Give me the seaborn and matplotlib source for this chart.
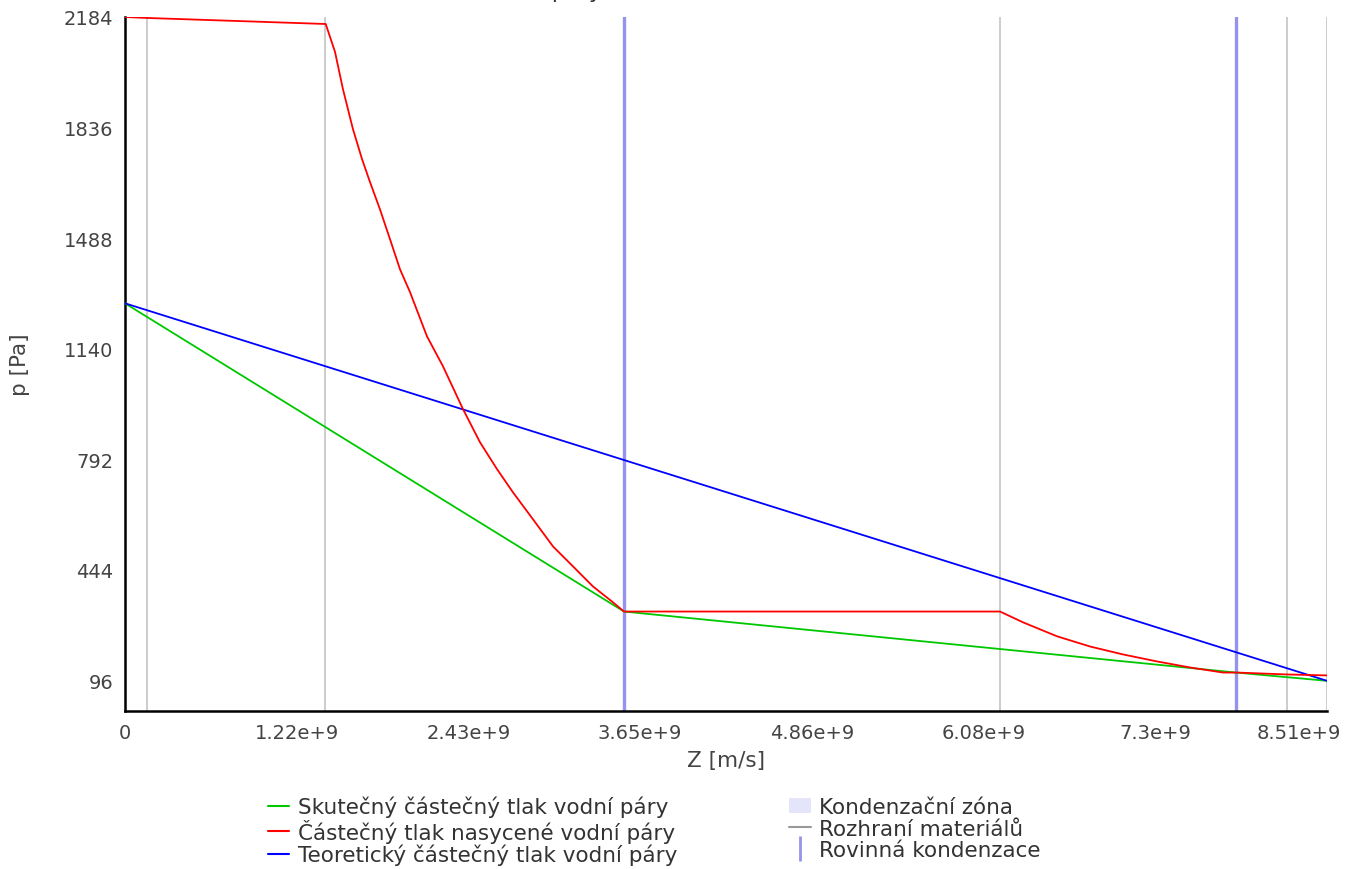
import numpy as np
import pandas as pd
import matplotlib
matplotlib.use("Agg")
import matplotlib.pyplot as plt
import matplotlib.transforms as mtransforms
import seaborn as sns
from matplotlib.lines import Line2D
from matplotlib.patches import Patch

sns.set_style("white")
plt.rcParams['font.family'] = ['DejaVu Sans']

# ------------------------------
# Data (Z in 1e9 m/s, p in Pa)
# ------------------------------
z_max = 8.51e9

green_z = [0.0, 3.533, 7.866, 8.51]
green_p = [1283, 313, 121, 95]

blue_z = [0.0, 8.51]
blue_p = [1283, 95]

red_z = [0.0, 0.156, 1.421, 1.487, 1.543, 1.614, 1.678, 1.735, 1.805, 1.876,
         1.947, 2.018, 2.138, 2.251, 2.393, 2.513, 2.634, 2.747, 2.889, 3.030,
         3.172, 3.313, 3.455, 3.533, 6.195, 6.358, 6.599, 6.832, 7.066, 7.306,
         7.540, 7.774, 7.873, 8.227, 8.51]
red_p = [2184, 2181, 2162, 2074, 1957, 1831, 1737, 1664, 1579, 1485,
         1390, 1318, 1179, 1085, 950, 846, 761, 688, 603, 518,
         455, 392, 342, 313, 313, 279, 235, 203, 178, 156,
         137, 121, 121, 115, 112]

interfaces_z = [0.0, 0.156, 1.416, 6.195, 8.227, 8.51]
condensation_z = [3.533, 7.866]

x_ticks_labels = ["0", "1.22e+9", "2.43e+9", "3.65e+9", "4.86e+9", "6.08e+9", "7.3e+9", "8.51e+9"]
y_ticks = [96, 444, 792, 1140, 1488, 1836, 2184]

labels = ["Skutečný částečný tlak vodní páry",
          "Částečný tlak nasycené vodní páry",
          "Teoretický částečný tlak vodní páry",
          "Kondenzační zóna",
          "Rozhraní materiálů",
          "Rovinná kondenzace"]

green = pd.DataFrame({"Z": np.array(green_z) * 1e9, "p": green_p})
red = pd.DataFrame({"Z": np.array(red_z) * 1e9, "p": red_p})
blue = pd.DataFrame({"Z": np.array(blue_z) * 1e9, "p": blue_p})

fig = plt.figure(figsize=(13.51, 8.70), dpi=100)
ax = fig.add_axes([125 / 1351, 1 - 712 / 870, 1202 / 1351, 694 / 870])

# material interfaces and condensation planes
for z in interfaces_z:
    ax.axvline(z * 1e9, color="#cccccc", lw=1.4, zorder=1)
for z in condensation_z:
    ax.axvline(z * 1e9, color="#9494ee", lw=2.4, zorder=1)

sns.lineplot(data=green, x="Z", y="p", color="#00c800", lw=1.3, estimator=None, sort=False, ax=ax, zorder=3)
sns.lineplot(data=red, x="Z", y="p", color="#ff0000", lw=1.3, estimator=None, sort=False, ax=ax, zorder=4)
sns.lineplot(data=blue, x="Z", y="p", color="#0000ff", lw=1.3, estimator=None, sort=False, ax=ax, zorder=3)

ax.set_xlim(0, z_max)
ax.set_ylim(0, 2184)
ax.set_xticks(np.linspace(0, z_max, len(x_ticks_labels)))
ax.set_xticklabels(x_ticks_labels)
ax.set_yticks(y_ticks)
ax.set_yticklabels([str(v) for v in y_ticks])
ax.tick_params(axis="both", direction="inout", length=9, width=1.5, colors="black",
               labelcolor="#444444", labelsize=14, pad=4)

# last x label is pulled left so it stays on the canvas
last = ax.get_xticklabels()[-1]
last.set_transform(last.get_transform() + mtransforms.ScaledTranslation(-28 / 100, 0, fig.dpi_scale_trans))

for side in ["top", "right"]:
    ax.spines[side].set_visible(False)
for side in ["left", "bottom"]:
    ax.spines[side].set_color("black")
    ax.spines[side].set_linewidth(1.8)

ax.set_xlabel("Z [m/s]", fontsize=15.5, color="#444444", labelpad=6)
ax.set_ylabel("p [Pa]", fontsize=15.5, color="#444444", labelpad=24)

# title sits mostly above the visible canvas
fig.text(0.40, 1.002, "Průběh tlaků vodní páry v konstrukci", ha="center", va="baseline",
         fontsize=16, color="#333333")

handles = [Line2D([], [], color="#00c800", lw=1.5),
           Line2D([], [], color="#ff0000", lw=1.5),
           Line2D([], [], color="#0000ff", lw=1.5),
           Patch(facecolor="#e4e4fb", edgecolor="none"),
           Line2D([], [], color="#999999", lw=1.5),
           Line2D([], [], color="#9494ee", marker="|", markersize=18, markeredgewidth=2, linestyle="none")]
fig.legend(handles, labels, ncol=2, loc="upper left", bbox_to_anchor=(257 / 1351, 1 - 786 / 870),
           frameon=False, fontsize=15.5, handlelength=1.0, handletextpad=0.4, labelspacing=0.06,
           columnspacing=5.2, borderpad=0, labelcolor="#333333")

fig.savefig("out.png", dpi=100)
